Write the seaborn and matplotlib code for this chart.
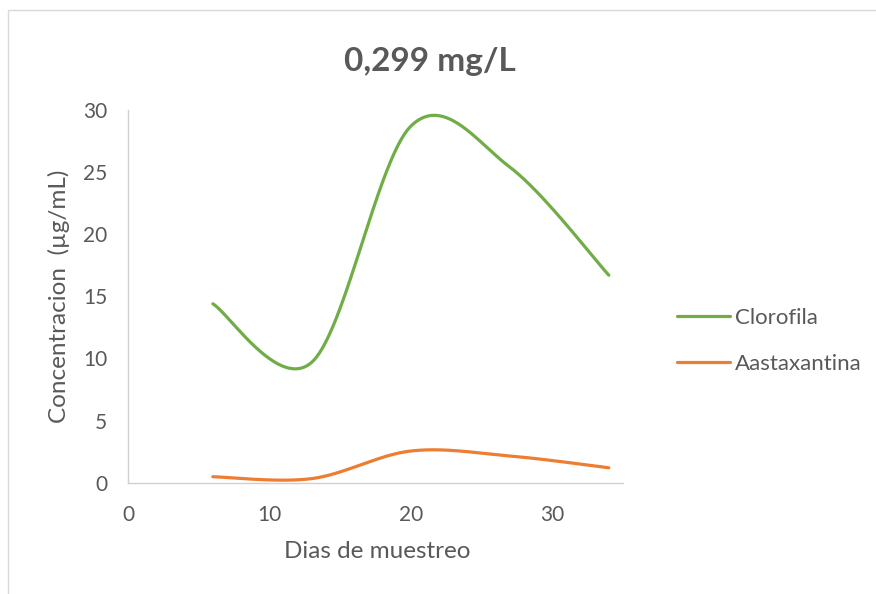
import numpy as np
import pandas as pd
import matplotlib
matplotlib.use("Agg")
import matplotlib.pyplot as plt
import seaborn as sns
from matplotlib.patches import Rectangle
from matplotlib.lines import Line2D

# ---- data ----
dias = [6, 13, 20, 27, 34]
clorofila = [14.4, 9.7, 28.7, 25.4, 16.7]
astaxantina = [0.48, 0.33, 2.55, 2.15, 1.2]
series_names = ["Clorofila", "Aastaxantina"]
series_colors = ["#70AD47", "#ED7D31"]
x_ticks = [0, 10, 20, 30]
y_ticks = [0, 5, 10, 15, 20, 25, 30]
title_text = "0,299 mg/L"
xlabel_text = "Dias de muestreo"
ylabel_text = "Concentracion  (µg/mL)"


def excel_smooth(x, y, n=80):
    """Excel-style smoothed line (Catmull-Rom Bezier through the data points)."""
    pts = np.column_stack([x, y]).astype(float)
    P = np.vstack([pts[0], pts, pts[-1]])
    out = []
    for i in range(1, len(P) - 2):
        p0, p1, p2, p3 = P[i - 1], P[i], P[i + 1], P[i + 2]
        c1 = p1 + (p2 - p0) / 6.0
        c2 = p2 - (p3 - p1) / 6.0
        t = np.linspace(0, 1, n)[:, None]
        seg = (1 - t) ** 3 * p1 + 3 * t * (1 - t) ** 2 * c1 + 3 * t ** 2 * (1 - t) * c2 + t ** 3 * p2
        out.append(seg if i == 1 else seg[1:])
    return np.vstack(out)


frames = []
for name, vals in zip(series_names, [clorofila, astaxantina]):
    curve = excel_smooth(dias, vals)
    frames.append(pd.DataFrame({"x": curve[:, 0], "y": curve[:, 1], "serie": name}))
df = pd.concat(frames, ignore_index=True)

sns.set_theme(style="white")
plt.rcParams["font.family"] = ["Lato", "DejaVu Sans"]

W, H = 876, 594
fig = plt.figure(figsize=(W / 100, H / 100), dpi=100)
left, right, top, bottom = 128, 623, 110, 482.7
ax = fig.add_axes([left / W, 1 - bottom / H, (right - left) / W, (bottom - top) / H])

sns.lineplot(data=df, x="x", y="y", hue="serie", palette=dict(zip(series_names, series_colors)),
             hue_order=series_names, sort=False, estimator=None, units="serie",
             linewidth=2.3, ax=ax, legend=False, solid_capstyle="round")

ax.set_xlim(0, 35)
ax.set_ylim(0, 30)
ax.set_xticks(x_ticks)
ax.set_yticks(y_ticks)
ax.tick_params(axis="both", length=0, labelsize=15, labelcolor="#595959")
ax.tick_params(axis="x", pad=16)
ax.tick_params(axis="y", pad=15)
for s in ["top", "right"]:
    ax.spines[s].set_visible(False)
for s in ["left", "bottom"]:
    ax.spines[s].set_color("#d0d0d0")
    ax.spines[s].set_linewidth(1.0)
ax.grid(False)

ax.set_xlabel(xlabel_text, fontsize=17.5, color="#595959")
ax.set_ylabel(ylabel_text, fontsize=17.5, color="#595959")
ax.xaxis.set_label_coords((377 - left) / (right - left), (bottom - 541) / (bottom - top))
ax.yaxis.set_label_coords((70 - left) / (right - left), 0.5)

fig.text(430 / W, 1 - 62 / H, title_text, ha="center", va="center",
         fontsize=24, fontweight="bold", color="#595959")

handles = [Line2D([0], [0], color=c, lw=2.3, solid_capstyle="round") for c in series_colors]
fig.legend(handles, series_names, loc="center left", bbox_to_anchor=(677 / W, 1 - 341 / H),
           frameon=False, fontsize=16, handlelength=2.4, handletextpad=0.22,
           labelspacing=1.15, borderpad=0, borderaxespad=0, labelcolor="#595959")

fig.patches.append(Rectangle((8 / W, -0.1), 1.2, 1 - 10 / H + 0.1, transform=fig.transFigure,
                             fill=False, edgecolor="#d9d9d9", linewidth=1.0))

fig.savefig("out.png", dpi=100)
